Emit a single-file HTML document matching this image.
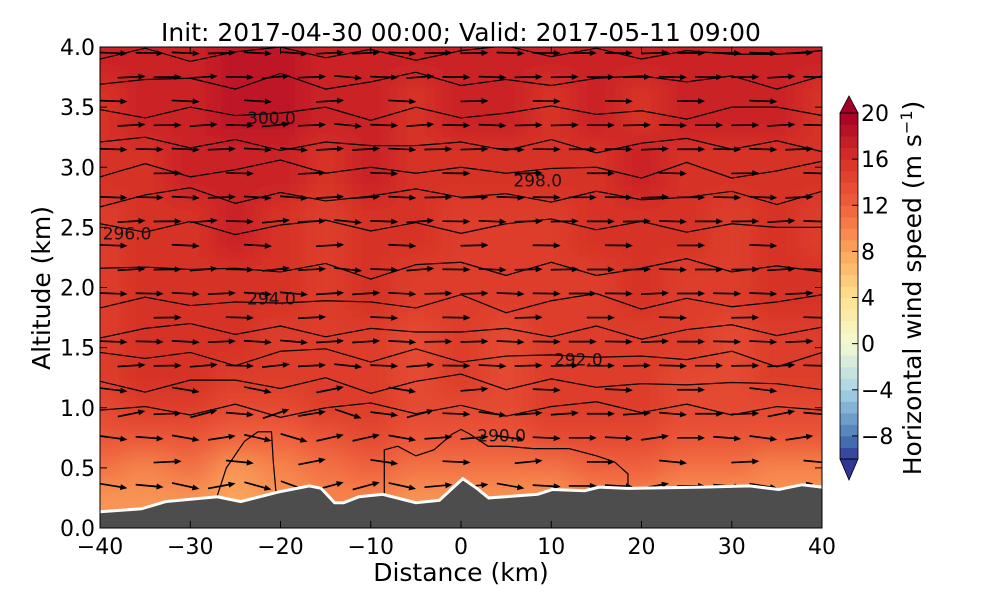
<!DOCTYPE html>
<html><head><meta charset="utf-8"><style>
html,body{margin:0;padding:0;background:#fff;width:1000px;height:600px;overflow:hidden}
svg text{font-family:"DejaVu Sans","Liberation Sans",sans-serif}
</style></head><body>
<svg id="chart" width="1000" height="600" viewBox="0 0 1000 600">
<defs>
<clipPath id="plotclip"><rect x="100" y="47" width="722" height="481"/></clipPath>
<filter id="blur" x="-10%" y="-10%" width="120%" height="120%"><feGaussianBlur stdDeviation="12"/></filter>
</defs>
<g id="field" clip-path="url(#plotclip)"></g>
<g id="contours" clip-path="url(#plotclip)"></g>
<g id="arrows" clip-path="url(#plotclip)"></g>
<g id="terrain" clip-path="url(#plotclip)"></g>
<g id="labels"></g>
<rect x="100" y="47" width="722" height="481" fill="none" stroke="#000" stroke-width="1"/>
<g id="axes"></g>
<g id="cbar"></g>
<text x="461" y="41" font-size="25" text-anchor="middle">Init: 2017-04-30 00:00; Valid: 2017-05-11 09:00</text>
<text x="461" y="581" font-size="25" text-anchor="middle">Distance (km)</text>
<text transform="translate(50,288) rotate(-90)" font-size="25" text-anchor="middle">Altitude (km)</text>
<text transform="translate(921,288) rotate(-90)" font-size="25" text-anchor="middle">Horizontal wind speed (m s<tspan dy="-9" font-size="16">−1</tspan><tspan dy="9">)</tspan></text>
</svg>
<script>
const xTicks=[-40,-30,-20,-10,0,10,20,30,40];
const yTicks=[0,0.5,1,1.5,2,2.5,3,3.5,4];
const cbarTicks=[-8,-4,0,4,8,12,16,20];
const gridX=[-40,-35,-30,-25,-20,-15,-10,-5,0,5,10,15,20,25,30,35,40];
const gridAlt=[0,0.25,0.5,0.75,1,1.25,1.5,2,2.5,3,3.5,4];
const speed=[
[9,9,9,8,9,10,10,9,9,9,9,10,10,9,9,9,9],
[9,9,9,8,9,10,10,9,9,9,9,10,10,9,9,9,9],
[11,10,11,9,10,11,12,11,11,11,11,12,12,11,11,10,10],
[13,13,13,12,12,13,14,13,13,13,14,14,14,13,13,13,13],
[14,15,15,14,14,15,15,14,14,14,15,15,15,14,14,14,14],
[15,16,16,15,15,15,15,14,15,14,15,15,15,14,14,15,15],
[15,16,16,16,15,15,15,14,15,14,15,15,15,15,14,15,15],
[15,16,16,16,16,15,16,15,15,15,15,15,16,15,15,16,16],
[15,16,16,17,16,15,16,16,15,15,15,16,16,16,15,16,15],
[16,16,17,17,17,16,17,16,16,16,16,16,17,16,16,16,16],
[16,17,17,18,18,17,17,16,17,17,16,17,16,17,17,17,16],
[17,17,17,18,18,17,17,17,17,17,17,17,17,17,17,17,17]];
const terrainX=[-40,-35.4,-32.7,-27,-24.4,-20.2,-16.8,-15.5,-14,-13,-11.3,-8.7,-5,-2.4,0.2,1.75,3.06,8.5,10.1,13.7,15.3,18.5,26.8,32,35.2,37.8,40];
const terrainH=[0.135,0.16,0.22,0.26,0.22,0.30,0.35,0.33,0.21,0.21,0.26,0.28,0.21,0.23,0.41,0.33,0.25,0.28,0.32,0.31,0.34,0.33,0.34,0.35,0.32,0.36,0.34];
const contourBase=[1.0,1.19,1.42,1.65,1.87,2.15,2.52,2.75,2.97,3.2,3.45,3.71,3.96];
const wiggle=[0,0.03,-0.04,0.05,-0.06,0.02,0.06,-0.03,0.04,-0.05,0.03,0.07,-0.02,0.05,-0.04,0.03,0];
const loopAX=[-27,-26,-24,-22.5,-21,-20.8,-20.5];
const loopAH=[0.27,0.5,0.72,0.8,0.8,0.55,0.3];
const loopBX=[-8.5,-8.5,-7,-5,-3,-1,0,1,3,5,8,12,15,17,18.5,18.5];
const loopBH=[0.28,0.65,0.68,0.6,0.65,0.78,0.82,0.78,0.68,0.68,0.66,0.66,0.6,0.55,0.45,0.33];
const labelText=["300.0","298.0","296.0","294.0","292.0","290.0"];
const labelX=[-21,8.5,-37,-21,13,4.5];
const labelH=[3.36,2.84,2.4,1.86,1.35,0.72];
const arrowRowAlt=[0.35,0.55,0.75,0.95,1.15,1.35,1.55,1.75,1.95,2.15,2.35,2.55,2.75,2.95,3.15,3.35,3.55,3.75,3.95];
const arrowColX=[-38,-34,-30,-26,-22,-18,-14,-10,-6,-2,2,6,10,14,18,22,26,30,34,38];
const arrowU=[9,10,11,12,12,13,13,13,13,13,14,14,14,14,14,14,14,15,15];
const arrowW=[3,-1,4,2,5,-4,-5,3,4,1,-2,-2,1,0,1,2,0,-1,3,2];

const X=d=>100+(d+40)*722/80, Y=a=>528-a*481/4;
const NS='http://www.w3.org/2000/svg';
function mk(t,p,attrs){const e=document.createElementNS(NS,t);for(const k in attrs)e.setAttribute(k,attrs[k]);p.appendChild(e);return e;}
const cAnch=[[-10,[49,54,149]],[-8,[74,124,184]],[-4,[169,212,230]],[0,[245,251,213]],[4,[254,226,143]],[8,[251,165,92]],[12,[240,96,60]],[16,[215,48,39]],[20,[165,0,38]]];
function col(v){v=Math.max(-10,Math.min(20,v));for(let i=0;i<cAnch.length-1;i++){const[a,ca]=cAnch[i],[b,cb]=cAnch[i+1];if(v<=b){const t=(v-a)/(b-a);return 'rgb('+ca.map((c,j)=>Math.round(c+(cb[j]-c)*t)).join(',')+')';}}return 'rgb(165,0,38)';}

const field=document.getElementById('field');
const fg=mk('g',field,{filter:'url(#blur)'});
mk('rect',fg,{x:60,y:20,width:800,height:540,fill:col(15)});
for(let r=0;r<gridAlt.length;r++){
  const a0=r==0?-0.3:(gridAlt[r-1]+gridAlt[r])/2, a1=r==gridAlt.length-1?4.4:(gridAlt[r]+gridAlt[r+1])/2;
  for(let c=0;c<gridX.length;c++){
    const x0=c==0?-45:gridX[c]-2.5, x1=c==gridX.length-1?45:gridX[c]+2.5;
    const e=mk('rect',fg,{x:X(x0),y:Y(a1),width:X(x1)-X(x0),height:Y(a0)-Y(a1),fill:col(speed[r][c])});
    
    
  }
}
const cg=document.getElementById('contours');
contourBase.forEach((b,i)=>{
  let pts=gridX.map((x,c)=>X(x)+','+Y(b+wiggle[(c+i*3)%wiggle.length]+0.02*((c*i)%3-1))).join(' ');
  const e=mk('polyline',cg,{points:pts,fill:'none',stroke:'#000','stroke-width':1.2});
  
  
});
[[loopAX,loopAH],[loopBX,loopBH]].forEach(([xs,hs])=>{
  const e=mk('polyline',cg,{points:xs.map((x,i)=>X(x)+','+Y(hs[i])).join(' '),fill:'none',stroke:'#000','stroke-width':1.2});
  
  
});
const ag=document.getElementById('arrows');
arrowRowAlt.forEach((a,r)=>{
  arrowColX.forEach((x,c)=>{
    if((r+c)%2==1 && r%3==1) return;
    const xx=x+(r%2?1.5:-0.5);
    let w=arrowW[c]*(a<1.2?1.8:0.6)*((r+c)%2?1:-0.6);
    const u=arrowU[r];
    const ang=Math.atan2(-w,u*2.2);
    const L=28, cx=X(xx), cy=Y(a);
    const dx=Math.cos(ang)*L, dy=Math.sin(ang)*L;
    const x1=cx-dx/2,y1=cy-dy/2,x2=cx+dx/2,y2=cy+dy/2;
    const g=mk('g',ag,{});
    
    
    mk('line',g,{x1:x1,y1:y1,x2:x2-Math.cos(ang)*6,y2:y2-Math.sin(ang)*6,stroke:'#000','stroke-width':1.7});
    const px=-Math.sin(ang),py=Math.cos(ang);
    const bx=x2-Math.cos(ang)*7,by=y2-Math.sin(ang)*7;
    mk('polygon',g,{points:`${x2},${y2} ${bx+px*3},${by+py*3} ${bx-px*3},${by-py*3}`,fill:'#000'});
  });
});
const tg=document.getElementById('terrain');
let tp=terrainX.map((x,i)=>X(x)+','+Y(terrainH[i])).join(' ');
const tpoly=mk('polygon',tg,{points:X(-40)+','+Y(-0.1)+' '+tp+' '+X(40)+','+Y(-0.1),fill:'#4d4d4d'});


const tl=mk('polyline',tg,{points:tp,fill:'none',stroke:'#fff','stroke-width':3});


const lg=document.getElementById('labels');
labelText.forEach((t,i)=>{
  const e=mk('text',lg,{x:X(labelX[i]),y:Y(labelH[i]),'font-size':17,'text-anchor':'middle',fill:'#111'});
  e.textContent=t;
  
  
});
const ax=document.getElementById('axes');
xTicks.forEach(t=>{
  const x=X(t);
  mk('line',ax,{x1:x,y1:528,x2:x,y2:521,stroke:'#000'});
  mk('line',ax,{x1:x,y1:47,x2:x,y2:54,stroke:'#000'});
  const e=mk('text',ax,{x:x,y:554,'font-size':22,'text-anchor':'middle'});
  e.textContent=(t<0?'−':'')+Math.abs(t);
  
  
});
yTicks.forEach(t=>{
  const y=Y(t);
  mk('line',ax,{x1:100,y1:y,x2:107,y2:y,stroke:'#000'});
  mk('line',ax,{x1:822,y1:y,x2:815,y2:y,stroke:'#000'});
  const e=mk('text',ax,{x:95,y:y+8,'font-size':22,'text-anchor':'end'});
  e.textContent=t.toFixed(1);
  
  
});
const cb=document.getElementById('cbar');
const CY=v=>459-(v+10)*346/30;
for(let v=-10;v<20;v++){
  const e=mk('rect',cb,{x:840,y:CY(v+1),width:18,height:CY(v)-CY(v+1)+0.5,fill:col(v+0.5)});
  
  
}
mk('polygon',cb,{points:`840,${CY(20)} 849,96 858,${CY(20)}`,fill:col(20),stroke:'#000','stroke-width':0.8});
mk('polygon',cb,{points:`840,${CY(-10)} 849,480 858,${CY(-10)}`,fill:col(-10),stroke:'#000','stroke-width':0.8});
mk('rect',cb,{x:840,y:CY(20),width:18,height:CY(-10)-CY(20),fill:'none',stroke:'#000','stroke-width':0.8});
cbarTicks.forEach(t=>{
  const y=CY(t);
  mk('line',cb,{x1:852,y1:y,x2:858,y2:y,stroke:'#000'});
  const e=mk('text',cb,{x:861,y:y+8,'font-size':22});
  e.textContent=(t<0?'−':'')+Math.abs(t);
  
  
});
</script>
</body></html>
